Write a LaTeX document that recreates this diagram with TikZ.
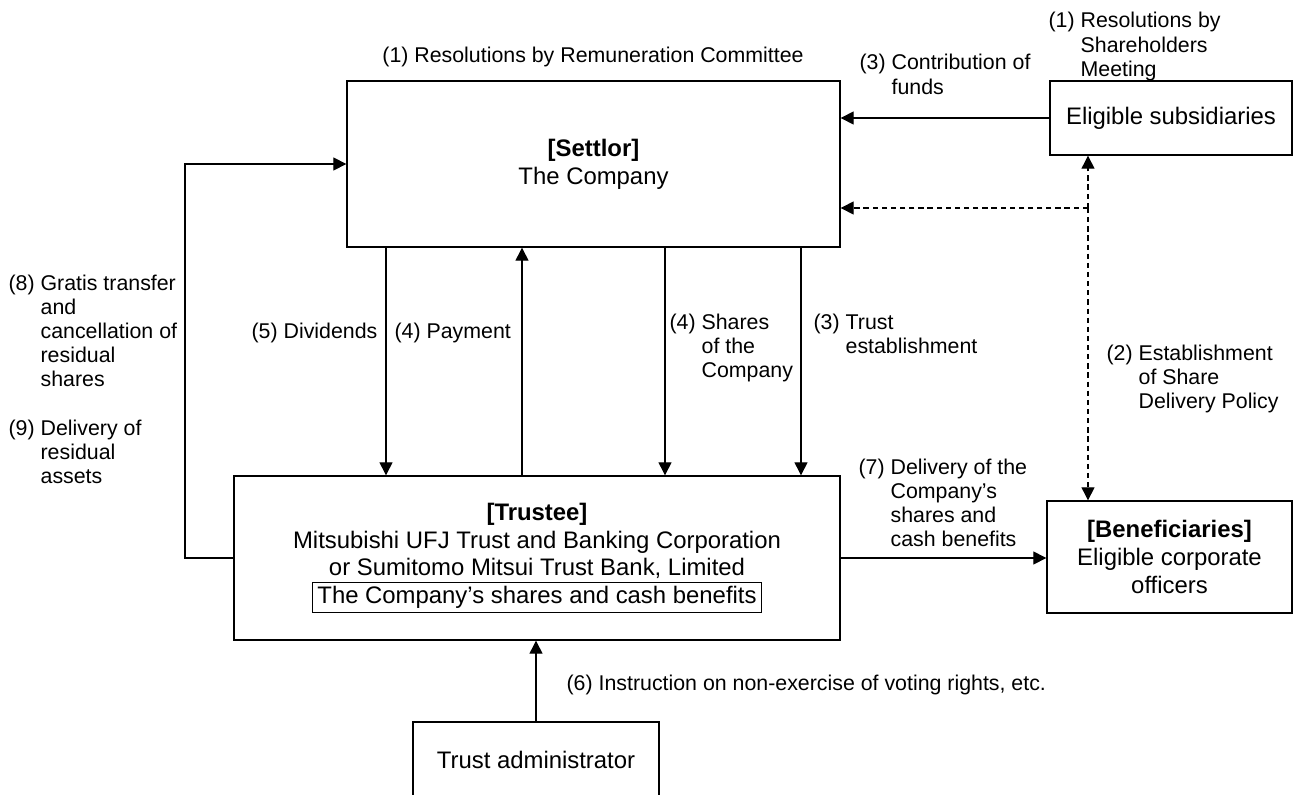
\documentclass[tikz,border=0pt]{standalone}
\usepackage{fontspec}
\setmainfont{Liberation Sans}
\usetikzlibrary{arrows.meta}
\newcommand{\hanglbl}[2]{\begin{tabular}[t]{@{}l@{ }l@{}}#1&#2\end{tabular}}
\setlength{\fboxsep}{1.8pt}
\setlength{\fboxrule}{0.6pt}
\begin{document}
\begin{tikzpicture}[x=0.02cm, y=-0.02cm, line width=0.7pt]
\tikzset{ >={Triangle[length=0.26cm,width=0.26cm]},
  box/.style={draw, line width=0.8pt, align=center, inner sep=0pt, font=\fontsize{13.6}{15.8}\selectfont},
  lbl/.style={inner sep=0pt, font=\fontsize{12.15}{13.8}\selectfont},
}
\useasboundingbox (0,0) rectangle (1294,794);

%\draw [lightgray, dashed](0,0) grid [step=100] (1294,794);

\node [box, minimum width=9.86cm, minimum height=3.32cm] (settlor) at (593.5,164) {\textbf{[Settlor]}\\The Company};
\node [box, minimum width=4.84cm, minimum height=1.48cm] (subs) at (1171,118) {Eligible subsidiaries};
\node [box, minimum width=12.12cm, minimum height=3.28cm] (trustee) at (537,558)
  {\textbf{[Trustee]}\\Mitsubishi UFJ Trust and Banking Corporation\\or Sumitomo Mitsui Trust Bank, Limited\\
   \fbox{\hspace{0.6pt}The Company’s shares and cash benefits\hspace{0.6pt}}};
\node [box, minimum width=4.9cm, minimum height=2.24cm] (benef) at (1169.5,557) {\textbf{[Beneficiaries]}\\Eligible corporate\\officers};
\node [box, minimum width=4.92cm, minimum height=1.52cm] (admin) at (536,760) {Trust administrator};

\coordinate (loop) at (185,360);
\coordinate (dj)   at (1088,208);
\coordinate (dv)   at (386,360);
\coordinate (pay)  at (522,360);
\coordinate (shr)  at (665,360);
\coordinate (est)  at (801,360);

\draw [->] (subs.west) -- (subs.west -| settlor.east);
\draw [->, dashed, dash pattern=on 3pt off 2.2pt] (dj) -- (dj -| settlor.east);
\draw [->, dashed, dash pattern=on 3pt off 2.2pt] (dj) -- (dj |- subs.south);
\draw [->, dashed, dash pattern=on 3pt off 2.2pt] (dj) -- (dj |- benef.north);

\draw [->] (settlor.south -| dv)  -- (trustee.north -| dv);
\draw [->] (trustee.north -| pay) -- (settlor.south -| pay);
\draw [->] (settlor.south -| shr) -- (trustee.north -| shr);
\draw [->] (settlor.south -| est) -- (trustee.north -| est);

\draw [->] (trustee.west) -- (trustee.west -| loop) |- (settlor.west);
\draw [->] (trustee.east) -- (trustee.east -| benef.west);
\draw [->] (admin.north) -- (admin.north |- trustee.south);

\node [lbl] (l1a) at (593,57) {(1) Resolutions by Remuneration Committee};
\node [lbl, anchor=base west] (l3a) at (859,70) {\hanglbl{(3)}{Contribution of\\&funds}};
\node [lbl, anchor=base west] (l1b) at (1048,28) {\hanglbl{(1)}{Resolutions by\\&Shareholders\\&Meeting}};
\node [lbl, anchor=base west] (l8) at (8,290) {\hanglbl{(8)}{Gratis transfer\\&and\\&cancellation of\\&residual\\&shares}};
\node [lbl, anchor=base west] (l9) at (8,435) {\hanglbl{(9)}{Delivery of\\&residual\\&assets}};
\node [lbl, anchor=base east] (l5) at (378,338) {(5) Dividends};
\node [lbl, anchor=base west] (l4a) at (394,338) {(4) Payment};
\node [lbl, anchor=base west] (l4b) at (669,329) {\hanglbl{(4)}{Shares\\&of the\\&Company}};
\node [lbl, anchor=base west] (l3b) at (813,329) {\hanglbl{(3)}{Trust\\&establishment}};
\node [lbl, anchor=base west] (l2) at (1106,360) {\hanglbl{(2)}{Establishment\\&of Share\\&Delivery Policy}};
\node [lbl, anchor=base west] (l7) at (858,474) {\hanglbl{(7)}{Delivery of the\\&Company’s\\&shares and\\&cash benefits}};
\node [lbl, anchor=base west] (l6) at (566,690) {(6) Instruction on non-exercise of voting rights, etc.};
\end{tikzpicture}
\end{document}
